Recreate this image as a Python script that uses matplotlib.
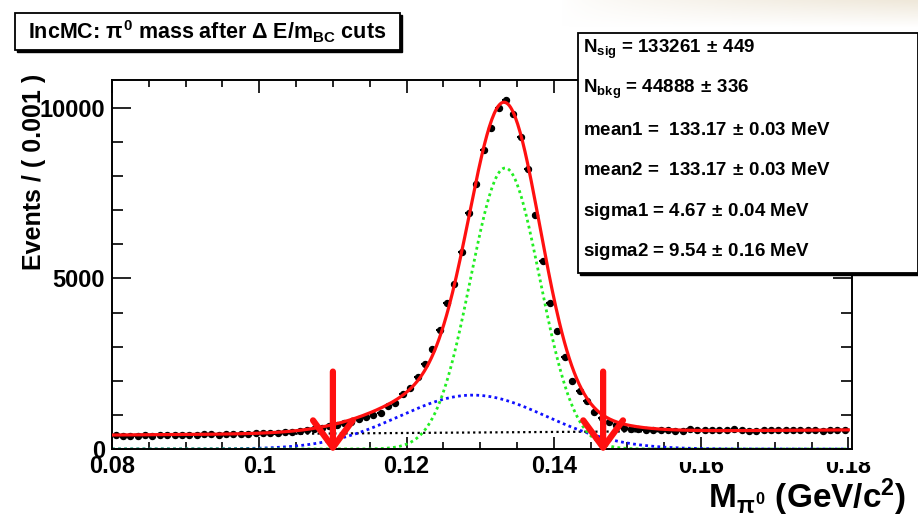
import numpy as np
import matplotlib
matplotlib.use("Agg")
import matplotlib.pyplot as plt
from matplotlib.patches import Rectangle
from matplotlib.ticker import MultipleLocator, FixedLocator, FixedFormatter

plt.rcParams['font.family'] = ['Liberation Sans', 'DejaVu Sans']
plt.rcParams['font.weight'] = 'bold'
plt.rcParams['mathtext.fontset'] = 'custom'
plt.rcParams['mathtext.rm'] = 'Liberation Sans:bold'
plt.rcParams['mathtext.it'] = 'Liberation Sans:bold'
plt.rcParams['mathtext.bf'] = 'Liberation Sans:bold'
plt.rcParams['mathtext.sf'] = 'Liberation Sans:bold'

# binning of the histogram (GeV)
bin_low = 0.08
bin_width = 0.001
# events per bin
counts = [400, 385, 395, 380, 405, 395, 410, 420, 405, 415,
          425, 410, 430, 435, 425, 440, 445, 450, 440, 460,
          475, 480, 470, 500, 510, 540, 560, 600, 620, 660,
          700, 760, 800, 880, 930, 1000, 1060, 1260, 1350, 1610,
          1790, 2110, 2490, 2930, 3490, 4280, 4840, 5780, 6920, 7770,
          8770, 9410, 10000, 10230, 9820, 9150, 8210, 6860, 5510, 4280,
          3460, 2700, 1990, 1700, 1410, 1085, 910, 790, 700, 615,
          600, 585, 570, 555, 545, 560, 540, 535, 575, 570,
          560, 550, 555, 560, 585, 560, 540, 520, 555, 560,
          550, 565, 550, 570, 560, 545, 530, 555, 550, 555]

# fit components
narrow_amp, narrow_mean, narrow_sigma = 8240, 0.1334, 0.0047   # green
wide_amp, wide_mean, wide_sigma = 1580, 0.1290, 0.0100         # blue
bkg_ends = [410, 560]                                           # black, at 0.08 and 0.18

# cut positions (GeV)
cuts = [0.1100, 0.1467]

xtick_vals = [0.08, 0.10, 0.12, 0.14, 0.16, 0.18]
xtick_labels = ['0.08', '0.1', '0.12', '0.14', '0.16', '0.18']
ytick_vals = [0, 5000, 10000]
ytick_labels = ['0', '5000', '10000']

stats_lines = [r'N$_{\mathbf{sig}}$ = 133261$\,\pm\,$449',
               r'N$_{\mathbf{bkg}}$ = 44888$\,\pm\,$336',
               r'mean1 =  133.17$\,\pm\,$0.03 MeV',
               r'mean2 =  133.17$\,\pm\,$0.03 MeV',
               r'sigma1 = 4.67$\,\pm\,$0.04 MeV',
               r'sigma2 = 9.54$\,\pm\,$0.16 MeV']

W, H = 918, 518


def fx(px):
    return px / W


def fy(py):
    return 1 - py / H


fig = plt.figure(figsize=(W / 100, H / 100), dpi=100)

# faint beige shading in the top right corner of the screenshot
bg = fig.add_axes([fx(560), fy(28), fx(358), fy(0) - fy(28)], zorder=-5)
grad = np.outer(np.linspace(1, 0, 20), np.linspace(0, 1, 100) ** 0.7)
bg.imshow(grad, cmap=matplotlib.colors.LinearSegmentedColormap.from_list('b', ['white', '#efe8da']),
          aspect='auto', extent=[0, 1, 0, 1], vmin=0, vmax=1)
bg.axis('off')

ax = fig.add_axes([fx(112), fy(449), fx(852) - fx(112), fy(80) - fy(449)])

mass = bin_low + bin_width * (np.arange(len(counts)) + 0.5)
counts = np.array(counts, dtype=float)

xs = np.linspace(0.08, 0.18, 600)
bkg = bkg_ends[0] + (bkg_ends[1] - bkg_ends[0]) * (xs - 0.08) / 0.10
narrow = narrow_amp * np.exp(-0.5 * ((xs - narrow_mean) / narrow_sigma) ** 2)
wide = wide_amp * np.exp(-0.5 * ((xs - wide_mean) / wide_sigma) ** 2)

ax.plot(xs, bkg, color='black', ls=(0, (1, 1.5)), lw=1.6, zorder=2)
ax.plot(xs, wide, color='#1010ff', ls=(0, (1, 1.2)), lw=2.0, zorder=2)
ax.plot(xs, narrow, color='#22ee22', ls=(0, (1, 1.2)), lw=2.0, zorder=2)
ax.errorbar(mass, counts, xerr=bin_width / 2, yerr=np.sqrt(counts), fmt='o',
            ms=4.3, color='black', ecolor='black', elinewidth=1.5, capsize=0, zorder=3)
ax.plot(xs, bkg + narrow + wide, color='#ff1010', lw=2.3, zorder=4)

for c in cuts:
    ax.annotate('', xy=(c, -110), xytext=(c, 2270),
                arrowprops=dict(arrowstyle='->,head_length=0.75,head_width=0.55',
                                color='#ff1010', lw=4.5, mutation_scale=26,
                                shrinkA=0, shrinkB=0),
                annotation_clip=False, zorder=6)

ax.set_xlim(0.08, 0.1805)
ax.set_ylim(0, 10820)
ax.xaxis.set_major_locator(FixedLocator(xtick_vals))
ax.xaxis.set_major_formatter(FixedFormatter(xtick_labels))
ax.xaxis.set_minor_locator(MultipleLocator(0.005))
ax.yaxis.set_major_locator(FixedLocator(ytick_vals))
ax.yaxis.set_major_formatter(FixedFormatter(ytick_labels))
ax.yaxis.set_minor_locator(MultipleLocator(1000))
ax.tick_params(which='both', direction='in', top=True, right=True, width=1.2)
ax.tick_params(axis='x', which='major', length=9, labelsize=17, pad=4)
ax.tick_params(axis='x', which='minor', length=5)
ax.tick_params(axis='y', which='major', length=14, labelsize=17, pad=5)
ax.tick_params(axis='y', which='minor', length=8)
for s in ax.spines.values():
    s.set_linewidth(1.4)

# partly hidden tick labels on the right, as in the screenshot
fig.add_artist(Rectangle((fx(668), fy(462)), fx(918) - fx(668), fy(451) - fy(462),
                         transform=fig.transFigure, facecolor='white', edgecolor='none', zorder=5))

fig.text(fx(34), fy(74), 'Events / ( 0.001 )', rotation=90, ha='center', va='top', fontsize=18)
fig.text(fx(906), fy(497), r'M$_{\pi^0}$ (GeV/c$^{2}$)', ha='right', va='center', fontsize=24)

# title box with shadow
fig.add_artist(Rectangle((fx(17), fy(52)), fx(385), fy(0) - fy(37), transform=fig.transFigure,
                         facecolor='black', edgecolor='black', zorder=7))
fig.add_artist(Rectangle((fx(15), fy(50)), fx(385), fy(0) - fy(37), transform=fig.transFigure,
                         facecolor='white', edgecolor='black', lw=1.3, zorder=8))
fig.text(fx(207), fy(32), r'IncMC: $\pi^{0}$ mass after $\Delta$ E/m$_{\mathbf{BC}}$ cuts',
         ha='center', va='center', fontsize=15.5, zorder=9)

# fit result box
fig.add_artist(Rectangle((fx(580), fy(275)), fx(340), fy(0) - fy(240), transform=fig.transFigure,
                         facecolor='black', edgecolor='black', zorder=7))
fig.add_artist(Rectangle((fx(578), fy(273)), fx(340), fy(0) - fy(240), transform=fig.transFigure,
                         facecolor='white', edgecolor='black', lw=1.3, zorder=8))
for i, line in enumerate(stats_lines):
    fig.text(fx(583), fy(49 + i * 40.6), line, ha='left', va='center', fontsize=13.5, zorder=9)

fig.savefig('out.png', dpi=100)
